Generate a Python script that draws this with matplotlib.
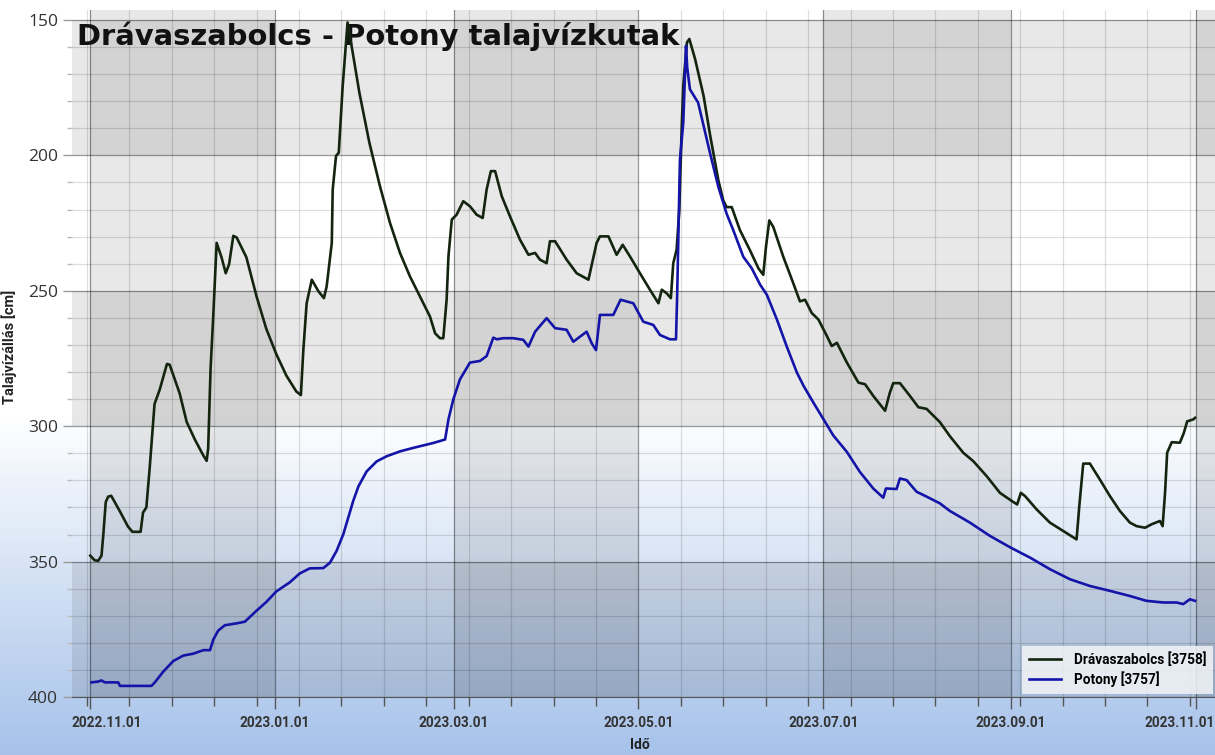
import numpy as np
import pandas as pd
import matplotlib
matplotlib.use('Agg')
import matplotlib.pyplot as plt
import matplotlib.dates as mdates
import matplotlib.transforms as mtransforms
from matplotlib.ticker import MultipleLocator, FixedLocator
from matplotlib.colors import to_rgb

# days counted from 2022-11-01, levels in cm below surface
start = pd.Timestamp('2022-11-01')

drava_days = [0.1, 1.5, 2.7, 3.8, 4.4, 5.2, 6.0, 7.0, 9.8, 12.5, 14.0, 16.7, 17.5, 18.6,
              19.7, 21.3, 23.0, 25.4, 26.3, 29.6, 31.9, 34.6, 37.4, 38.5, 39.0, 39.8,
              40.7, 41.8, 43.4, 44.8, 45.9, 47.3, 48.4, 51.6, 55.0, 58.2, 61.5, 64.8,
              68.1, 69.6, 70.4, 71.5, 73.2, 75.4, 77.2, 78.1, 79.8, 80.1, 81.2, 82.1,
              83.4, 85.0, 86.7, 88.9, 92.2, 95.7, 99.0, 102.3, 105.6, 108.9, 112.2,
              113.9, 115.5, 116.6, 117.7, 118.3, 119.4, 121.0, 123.2, 125.4, 127.6,
              129.6, 130.9, 132.3, 133.7, 135.9, 138.6, 141.9, 144.7, 146.9, 148.5,
              150.7, 151.8, 153.5, 157.3, 160.6, 164.5, 167.2, 168.3, 171.1, 173.8,
              175.8, 178.2, 181.5, 184.8, 187.6, 188.7, 190.3, 191.7, 192.5, 193.6,
              194.5, 195.3, 195.8, 197.0, 197.8, 199.7, 202.5, 204.7, 207.4, 209.0,
              210.1, 211.8, 214.5, 217.8, 220.6, 222.2, 223.1, 224.2, 225.5, 228.8,
              232.1, 234.3, 236.0, 238.2, 240.4, 243.2, 244.8, 246.5, 249.8, 253.6,
              255.8, 258.5, 262.4, 264.0, 265.1, 267.3, 270.6, 273.4, 276.1, 280.5,
              283.8, 288.2, 291.5, 295.9, 300.3, 304.2, 306.0, 307.2, 308.6, 312.4,
              316.8, 321.2, 325.6, 326.5, 327.8, 330.0, 333.3, 336.6, 339.9, 343.2,
              345.4, 348.2, 350.4, 353.1, 354.0, 354.8, 355.5, 357.0, 359.7, 361.0,
              362.1, 364.1, 364.7]
drava_level = [347.8, 349.5, 349.7, 347.8, 340.0, 328.0, 326.0, 325.7, 331.3, 337.0, 339.0,
               339.0, 331.9, 330.0, 315.4, 291.8, 286.5, 277.0, 277.3, 287.9, 298.4,
               304.9, 310.8, 312.8, 308.2, 278.6, 258.8, 232.3, 237.6, 243.5, 240.2,
               229.7, 230.3, 237.6, 252.2, 264.1, 273.4, 281.3, 287.2, 288.5, 272.0,
               254.6, 245.9, 250.2, 252.7, 248.4, 232.3, 212.6, 200.2, 199.0, 174.3,
               150.9, 162.0, 176.8, 195.3, 211.4, 224.9, 236.0, 244.7, 252.1, 259.5,
               265.7, 267.5, 267.5, 253.3, 237.3, 223.7, 221.9, 216.9, 218.8, 221.9,
               223.1, 212.6, 205.8, 205.8, 215.1, 222.5, 231.1, 236.7, 236.0, 238.5,
               239.8, 231.7, 231.7, 238.5, 243.5, 245.9, 232.3, 229.9, 229.9, 236.7,
               233.0, 237.3, 243.5, 249.6, 254.6, 249.6, 250.9, 252.7, 239.8, 234.8,
               220.0, 189.1, 174.3, 158.3, 157.0, 164.4, 178.0, 192.8, 209.3, 216.6,
               219.1, 219.1, 227.6, 235.0, 241.7, 244.1, 233.7, 224.0, 226.4, 237.4,
               247.2, 253.9, 253.3, 258.2, 260.6, 266.7, 270.4, 269.2, 276.5, 283.9,
               284.5, 288.8, 294.3, 287.5, 284.1, 284.1, 288.8, 293.0, 293.6, 298.5,
               303.7, 309.8, 312.9, 318.4, 324.6, 327.6, 328.9, 324.6, 325.8, 330.7,
               335.6, 338.7, 341.8, 329.5, 313.8, 313.8, 319.7, 325.8, 331.3, 335.6,
               336.9, 337.5, 336.2, 335.0, 336.9, 324.6, 309.8, 305.9, 306.1, 302.5,
               298.2, 297.5, 296.9]

potony_days = [0.5, 2.7, 3.8, 4.9, 9.3, 9.9, 20.3, 21.4, 24.2, 27.5, 30.8, 34.1, 37.4,
               39.6, 40.7, 42.3, 44.5, 48.4, 51.1, 54.9, 58.2, 61.5, 65.9, 69.2, 72.5,
               77.0, 79.2, 81.4, 83.6, 86.9, 88.6, 91.3, 94.6, 97.9, 102.3, 106.7, 111.1,
               113.3, 117.2, 118.3, 119.9, 122.1, 125.4, 128.7, 130.9, 133.1, 134.3,
               136.4, 139.7, 143.0, 144.7, 146.9, 150.7, 153.5, 157.3, 159.5, 163.9,
               165.6, 167.0, 168.3, 172.7, 175.1, 179.3, 182.6, 185.9, 188.1, 191.4,
               193.4, 193.8, 194.7, 195.8, 196.7, 197.1, 198.0, 200.7, 204.6, 207.4,
               210.1, 212.3, 215.6, 218.4, 221.2, 223.4, 226.7, 229.9, 233.3, 235.5,
               238.7, 242.0, 245.3, 249.8, 254.1, 258.5, 261.8, 262.7, 266.2, 267.3,
               269.5, 272.8, 276.1, 280.5, 283.8, 290.4, 297.0, 303.8, 310.2, 316.8,
               323.4, 330.0, 336.6, 343.2, 348.7, 354.2, 358.6, 360.8, 363.0, 364.7]
potony_level = [394.6, 394.3, 393.9, 394.6, 394.6, 395.9, 395.9, 394.6, 390.6, 386.7, 384.7,
                384.0, 382.7, 382.7, 378.8, 375.5, 373.5, 372.8, 372.2, 368.2, 364.9,
                361.0, 357.7, 354.4, 352.5, 352.4, 350.4, 346.0, 339.9, 327.5, 322.2,
                316.7, 313.0, 311.1, 309.3, 308.0, 306.8, 306.2, 304.9, 297.5, 290.1,
                282.7, 276.5, 275.9, 274.1, 267.3, 267.9, 267.5, 267.5, 268.1, 270.6,
                265.1, 260.1, 263.8, 264.4, 268.8, 265.1, 269.4, 271.9, 258.9, 258.9,
                253.3, 254.6, 261.4, 262.6, 266.3, 267.9, 267.9, 250.9, 201.5, 187.9,
                159.5, 167.5, 175.6, 180.5, 199.0, 211.7, 221.5, 227.6, 237.4, 241.7,
                247.8, 251.5, 260.6, 270.4, 280.2, 285.1, 291.2, 297.3, 303.4, 309.5,
                316.9, 323.0, 326.4, 323.0, 323.2, 319.3, 319.9, 324.2, 326.0, 328.5,
                331.3, 335.6, 340.5, 344.8, 348.5, 352.8, 356.5, 359.0, 360.8, 362.7,
                364.5, 365.1, 365.1, 365.7, 363.9, 364.5]

series_names = ['Drávaszabolcs [3758]', 'Potony [3757]']
series_colors = ['#13240f', '#1414a8']
title_text = 'Drávaszabolcs - Potony talajvízkutak'
major_dates = pd.date_range('2022-11-01', '2023-11-01', freq='2MS')
minor_dates = pd.date_range('2022-10-31', '2023-11-13', freq='14D')

W, H = 1215, 755
fig = plt.figure(figsize=(W / 100, H / 100), dpi=100)

# white -> light blue background
bg = fig.add_axes([0, 0, 1, 1], zorder=-5)
rows = np.arange(H)
t = np.clip((rows - 415) / (H - 415), 0, 1)
top_c = np.array([1.0, 1.0, 1.0])
bot_c = np.array(to_rgb('#a6c2ea'))
grad = top_c[None, :] * (1 - t[:, None]) + bot_c[None, :] * t[:, None]
bg.imshow(grad[:, None, :], aspect='auto', extent=[0, 1, 0, 1])
bg.axis('off')

ax = fig.add_axes([72 / W, 58 / H, (W - 72) / W, 687 / H])
ax.patch.set_alpha(0)

x0 = mdates.date2num(start)
xmin = x0 - 5.94
xmax = x0 + (W - 90) / 3.03
ax.set_xlim(xmin, xmax)
ax.set_ylim(400, 146.3)

# checkerboard bands
maj_num = list(mdates.date2num(major_dates))
edges = [xmin] + maj_num + [xmax]
for i in range(len(edges) - 1):
    if (i - 1) % 2 == 0:
        ax.axvspan(edges[i], edges[i + 1], color='k', alpha=0.09, lw=0, zorder=0.2)
for y0 in [150, 250, 350]:
    ax.axhspan(y0, y0 + 50, color='k', alpha=0.09, lw=0, zorder=0.2)

ax.xaxis.set_major_locator(FixedLocator(maj_num))
ax.xaxis.set_minor_locator(FixedLocator(mdates.date2num(minor_dates)))
ax.yaxis.set_major_locator(MultipleLocator(50))
ax.yaxis.set_minor_locator(MultipleLocator(10))
ax.set_axisbelow(True)
ax.grid(which='major', color='k', alpha=0.4, lw=0.9)
ax.grid(which='minor', color='k', alpha=0.13, lw=0.9)

for s in ['top', 'right', 'left']:
    ax.spines[s].set_visible(False)
ax.spines['bottom'].set_color('#555555')

ax.tick_params(axis='x', which='major', length=8.5, width=1, color='#555555', labelbottom=False)
ax.tick_params(axis='x', which='minor', length=6.5, width=1, color='#555555')
ax.tick_params(axis='y', which='major', length=6.5, width=1, color='#999999', pad=3.5,
               labelsize=12.5, labelcolor='#333333')
ax.tick_params(axis='y', which='minor', length=3.6, width=1, color='#bbbbbb')
for lab in ax.get_yticklabels():
    lab.set_fontfamily('Open Sans')

# x labels, kept inside the plot width like the original
trans = mtransforms.blended_transform_factory(ax.transData, ax.transAxes)
for i, d in enumerate(major_dates):
    xpos, ha = maj_num[i], 'center'
    if i == 0:
        xpos, ha = xmin, 'left'
    elif i == len(major_dates) - 1:
        xpos, ha = xmax, 'right'
    ax.text(xpos, -19 / 687, d.strftime('%Y.%m.%d'), transform=trans, ha=ha, va='top',
            fontfamily='Roboto', fontweight='bold', fontsize=9.8, color='#333333')

for days, level, name, col in zip([drava_days, potony_days], [drava_level, potony_level],
                                  series_names, series_colors):
    ax.plot(x0 + np.array(days), level, color=col, lw=1.9, label=name, zorder=3)

ax.text(0.004, 0.949, title_text, transform=ax.transAxes, fontfamily='DejaVu Sans',
        fontweight='bold', fontsize=20.9, color='#111111', va='baseline', ha='left', zorder=2)

ax.set_ylabel('Talajvízállás [cm]', fontfamily='Roboto', fontweight='bold', fontsize=10.5,
              color='#222222')
ax.yaxis.set_label_coords(-(72 - 17) / (W - 72), (755 - 347 - 58) / 687)
ax.set_xlabel('Idő', fontfamily='Roboto', fontweight='bold', fontsize=10, color='#222222')
ax.xaxis.set_label_coords((640 - 72) / (W - 72), -(738 - 697) / 687)

ax.legend(loc='lower left', bbox_to_anchor=(0.825, -0.005), frameon=True, fancybox=False,
          framealpha=0.85, facecolor='#f2f4f7', edgecolor='none',
          prop={'family': 'Roboto', 'weight': 'bold', 'size': 9.8},
          handlelength=2.4, handletextpad=0.9, borderpad=0.5, labelspacing=0.3)

plt.savefig('out.png', dpi=100)
